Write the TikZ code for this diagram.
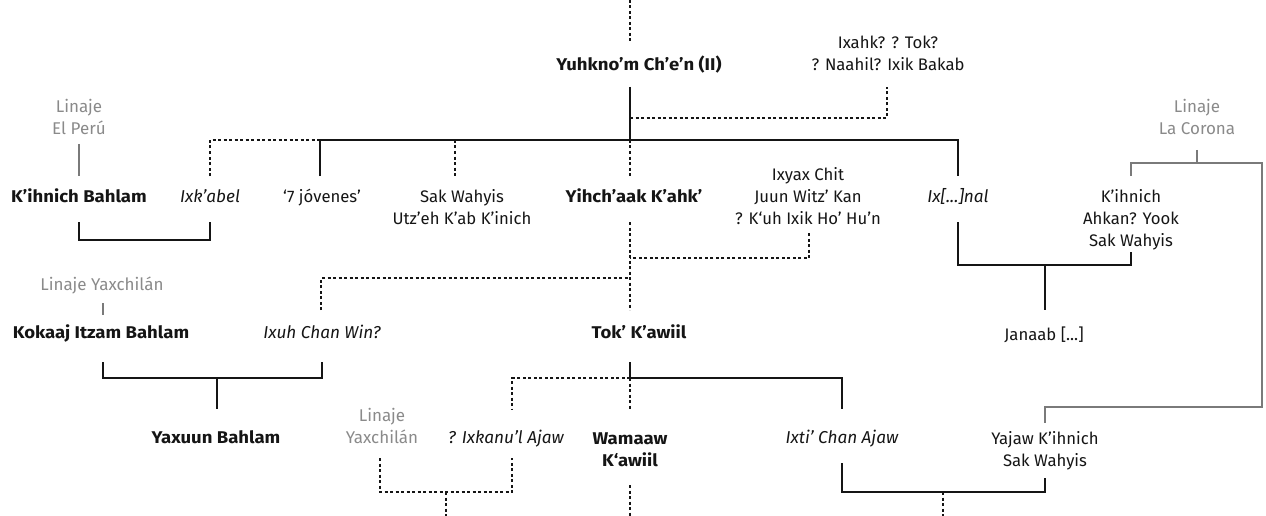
\documentclass[tikz,border=0pt]{standalone}
\usepackage{fontspec}
\setmainfont{Fira Sans}
\newfontfamily\rulerfont{Fira Sans}[FakeStretch=1.09]
\definecolor{ink}{HTML}{151515}
\definecolor{grayt}{HTML}{8A8A8A}
\definecolor{grayl}{HTML}{7A7A7A}
\begin{document}
\begin{tikzpicture}[x=1pt,y=-1pt,
  person/.style={align=center, inner sep=0pt, text=ink, font=\fontsize{16.7}{22}\selectfont},
  ruler/.style={person, font={\rulerfont\bfseries\fontsize{17}{22}\selectfont}},
  wife/.style={person, font=\fontsize{17.2}{22}\selectfont\itshape},
  lineage/.style={person, text=grayt, font=\fontsize{17}{22}\selectfont},
  kin/.style={line width=1.6pt, draw=ink},
  maybe/.style={line width=1.5pt, draw=ink, dash pattern=on 3pt off 2.5pt},
  lin/.style={line width=1.4pt, draw=grayl}]
\useasboundingbox (0,0) rectangle (1266,516);
% nodes
\node[ruler] (yuk) at (639,66.5) {\strut Yuhkno’m Ch’e’n (II)};
\node[person] (ixa) at (888,55) {\strut Ixahk? ? Tok?\\\strut ? Naahil? Ixik Bakab};
\node[lineage] (lep) at (79,119) {\strut Linaje\\\strut El Perú};
\node[lineage] (llc) at (1197,119) {\strut Linaje\\\strut La Corona};
\node[ruler] (kb) at (79,198.5) {\strut K’ihnich Bahlam};
\node[wife] (ixk) at (210,198.5) {\strut Ixk’abel};
\node[person] (sj) at (322,198.5) {\strut ‘7 jóvenes’};
\node[person] (sw) at (462,209.5) {\strut Sak Wahyis\\\strut Utz’eh K’ab K’inich};
\node[ruler] (yk) at (634,198.5) {\strut Yihch’aak K’ahk’};
\node[person] (ixy) at (808,198.5) {\strut Ixyax Chit\\\strut Juun Witz’ Kan\\\strut ? K‘uh Ixik Ho’ Hu’n};
\node[wife] (ixn) at (958,198.5) {\strut Ix[...]nal};
\node[person] (kah) at (1131,220.5) {\strut K’ihnich\\\strut Ahkan? Yook\\\strut Sak Wahyis};
\node[lineage] (lyx1) at (102,286.5) {\strut Linaje Yaxchilán};
\node[ruler] (kib) at (101,334.5) {\strut Kokaaj Itzam Bahlam};
\node[wife] (ixuh) at (322,334.5) {\strut Ixuh Chan Win?};
\node[ruler] (tk) at (639,334.5) {\strut Tok’ K’awiil};
\node[person] (jan) at (1044,336.5) {\strut Janaab [...]};
\node[ruler] (yb) at (216,439.5) {\strut Yaxuun Bahlam};
\node[lineage] (lyx2) at (382,428) {\strut Linaje\\\strut Yaxchilán};
\node[wife] (ixka) at (506,439.5) {\strut ? Ixkanu’l Ajaw};
\node[ruler] (wk) at (630,451.5) {\strut Wamaaw\\\strut K‘awiil};
\node[wife] (ixti) at (842,439.5) {\strut Ixti’ Chan Ajaw};
\node[person] (yaj) at (1045,451.5) {\strut Yajaw K’ihnich\\\strut Sak Wahyis};
% free ends
\coordinate (top) at (630,0);
\coordinate (b1) at (446,516);
\coordinate (b2) at (630,516);
\coordinate (b3) at (943,516);
% solid kinship lines
\draw[kin] (630,87) -- (630,140);
\draw[kin] (320,176) -- (320,140) -- (958,140) -- (958,176);
\draw[kin] (79,222) -- (79,240) -- (210,240) -- (210,222);
\draw[kin] (958,222) -- (958,265) -- (1131,265) -- (1131,252);
\draw[kin] (1045,265) -- (1045,310);
\draw[kin] (103,362) -- (103,378) -- (322,378) -- (322,362);
\draw[kin] (217,378) -- (217,409);
\draw[kin] (630,362) -- (630,378) -- (842,378) -- (842,409);
\draw[kin] (842,463) -- (842,492) -- (1045,492) -- (1045,478);
% uncertain lines
\draw[maybe] (top) -- (630,42);
\draw[maybe] (630,118) -- (887,118) -- (887,87);
\draw[maybe] (210,176) -- (210,140) -- (320,140);
\draw[maybe] (455,140) -- (455,176);
\draw[maybe] (630,140) -- (630,176);
\draw[maybe] (630,222) -- (630,310);
\draw[maybe] (809,233) -- (809,258) -- (630,258);
\draw[maybe] (321,310) -- (321,278) -- (630,278);
\draw[maybe] (630,378) -- (512,378) -- (512,409);
\draw[maybe] (630,378) -- (630,409);
\draw[maybe] (380,458) -- (380,492) -- (512,492) -- (512,458);
\draw[maybe] (446,492) -- (b1);
\draw[maybe] (630,485) -- (b2);
\draw[maybe] (943,492) -- (b3);
% lineage lines
\draw[lin] (79,144) -- (79,176);
\draw[lin] (1197,150) -- (1197,163);
\draw[lin] (1131,176) -- (1131,163) -- (1262,163) -- (1262,407) -- (1045,407) -- (1045,423);
\draw[lin, line width=1.1pt] (103,303) -- (103,315);
\end{tikzpicture}
\end{document}
